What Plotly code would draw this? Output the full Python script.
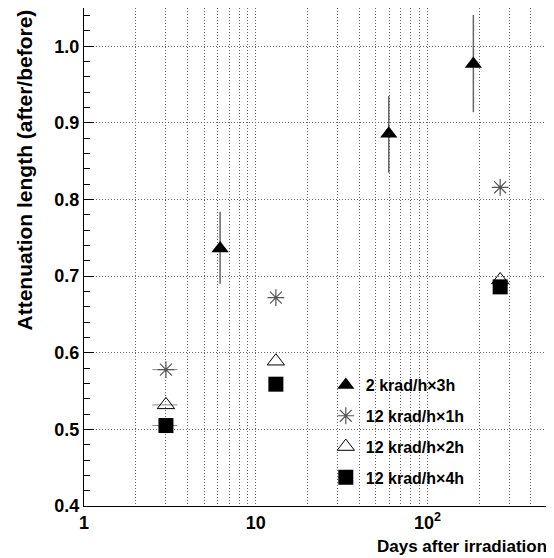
import plotly.graph_objects as go
import numpy as np

# ---- data ----
x_2k3h = [6.2, 59.5, 185]
y_2k3h = [0.736, 0.886, 0.977]
err_up_2k3h = [0.048, 0.049, 0.064]
err_dn_2k3h = [0.046, 0.051, 0.063]

x_12k = [3.0, 13.1, 265]
y_12k1h = [0.578, 0.672, 0.816]
y_12k2h = [0.532, 0.589, 0.695]
y_12k4h = [0.505, 0.559, 0.686]
xerr_12k = [0.5, 0, 0]

names = ["2 krad/h\u00d73h", "12 krad/h\u00d71h", "12 krad/h\u00d72h", "12 krad/h\u00d74h"]

x_major = [1, 10, 100]
x_major_labels = ["1", "10", "10<sup>2</sup>"]
x_minor = [2, 3, 4, 5, 6, 7, 8, 9, 20, 30, 40, 50, 60, 70, 80, 90, 200, 300, 400, 500]
y_tickvals = [0.4, 0.5, 0.6, 0.7, 0.8, 0.9, 1.0]

FONT = "Liberation Sans, Arial, Helvetica, sans-serif"
GRID = "#666"

fig = go.Figure()

fig.add_trace(go.Scatter(
    x=x_2k3h, y=y_2k3h, mode="markers", name=names[0], legendgroup="a",
    marker=dict(symbol="triangle-up", size=15, color="black"),
    error_y=dict(type="data", symmetric=False, array=err_up_2k3h, arrayminus=err_dn_2k3h,
                 color="#666", thickness=1.5, width=0),
))
fig.add_trace(go.Scatter(
    x=x_12k, y=y_12k1h, mode="markers", name=names[1], legendgroup="b",
    marker=dict(symbol="asterisk-open", size=14, color="#555", line=dict(color="#555", width=1.2)),
    error_x=dict(type="data", array=xerr_12k, color="#888", thickness=1, width=0),
))
fig.add_trace(go.Scatter(
    x=x_12k, y=y_12k2h, mode="markers", name=names[2], legendgroup="c",
    marker=dict(symbol="triangle-up-open", size=15, color="black", line=dict(color="black", width=1)),
    error_x=dict(type="data", array=xerr_12k, color="#888", thickness=1, width=0),
))
fig.add_trace(go.Scatter(
    x=x_12k, y=y_12k4h, mode="markers", name=names[3], legendgroup="d",
    marker=dict(symbol="square", size=15, color="black"),
    error_x=dict(type="data", array=xerr_12k, color="#888", thickness=1, width=0),
))

fig.update_layout(
    width=546, height=550,
    margin=dict(l=76, r=5, t=0, b=52, autoexpand=False),
    paper_bgcolor="white", plot_bgcolor="white",
    font=dict(family=FONT, color="black"),
    showlegend=True,
    legend=dict(x=0.52, y=0.277, xanchor="left", yanchor="top",
                bgcolor="rgba(0,0,0,0)", borderwidth=0,
                font=dict(family=FONT, size=16, color="black", weight="bold"),
                tracegroupgap=7, itemwidth=30),
    xaxis=dict(
        type="log", range=[0, np.log10(510)],
        tickvals=x_major, ticktext=x_major_labels,
        showgrid=True, gridcolor=GRID, griddash="1px,2px", gridwidth=1,
        minor=dict(tickvals=x_minor, showgrid=True, gridcolor=GRID, griddash="1px,2px",
                   gridwidth=1, ticks=""),
        showline=True, linecolor="black", linewidth=1, mirror=True,
        ticks="", tickfont=dict(size=18, weight="bold"),
        zeroline=False,
    ),
    yaxis=dict(
        range=[0.4, 1.05], tickvals=y_tickvals,
        ticktext=["%.1f" % v for v in y_tickvals],
        showgrid=True, gridcolor=GRID, griddash="1px,2px", gridwidth=1,
        showline=True, linecolor="black", linewidth=1, mirror=True,
        ticks="inside", ticklen=10, tickcolor="black",
        minor=dict(dtick=0.02, ticks="inside", ticklen=6, tickcolor="black", showgrid=False),
        tickfont=dict(size=18, weight="bold"),
        zeroline=False,
    ),
    annotations=[
        dict(text="Attenuation length (after/before)", xref="paper", yref="paper",
             x=-0.129, y=1.0, xanchor="center", yanchor="top", textangle=-90,
             showarrow=False, font=dict(family=FONT, size=21, weight="bold")),
        dict(text="Days after irradiation", xref="paper", yref="paper",
             x=1.0, y=-0.082, xanchor="right", yanchor="middle",
             showarrow=False, font=dict(family=FONT, size=17, weight="bold")),
    ],
)

fig.write_html("out.html")
